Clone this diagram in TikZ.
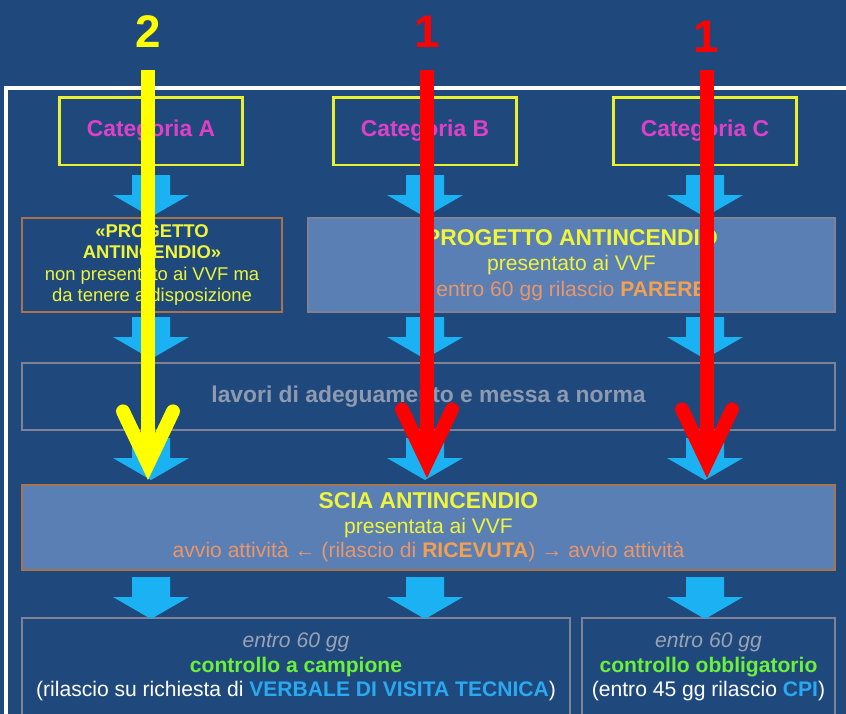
\documentclass[tikz,border=0pt]{standalone}
\usepackage{fontspec}
\setmainfont{Liberation Sans}
\definecolor{bgblue}{HTML}{1F497D}
\definecolor{panelblue}{HTML}{5A7FB5}
\definecolor{boxbrown}{HTML}{A8744E}
\definecolor{boxgray}{HTML}{7E8294}
\definecolor{catyellow}{HTML}{E8F030}
\definecolor{catmagenta}{HTML}{E040C8}
\definecolor{txtyellow}{HTML}{EEF53A}
\definecolor{txtorange}{HTML}{E8966A}
\definecolor{boldorange}{HTML}{F4A050}
\definecolor{txtgray}{HTML}{8E9AB0}
\definecolor{italgray}{HTML}{9AA3B3}
\definecolor{ctrlgreen}{HTML}{6CF03A}
\definecolor{txtcyan}{HTML}{2AA8F0}
\definecolor{flowblue}{HTML}{1AB2F2}
\definecolor{annyellow}{HTML}{FFFF00}
\definecolor{annred}{HTML}{FF0000}
\usetikzlibrary{arrows.meta, positioning, calc}
\tikzset{
  catbox/.style={
    draw=catyellow, line width=1.7pt, minimum width=3.66cm,
    minimum height=1.36cm, text=catmagenta,
    font=\fontsize{13}{15}\selectfont\bfseries
  },
  panel/.style={
    draw=#1, line width=0.7pt, inner sep=0pt, align=center
  },
  panel/.default=boxbrown,
  lightpanel/.style={panel=#1, fill=panelblue},
  lightpanel/.default=boxbrown,
  annot/.style={
    -{Straight Barb[length=1.05cm, width=1.0cm, line cap=round, line join=miter]},
    line width=7.9pt, color=#1
  },
  numlbl/.style={font=\fontsize{26}{26}\selectfont\bfseries, text=#1},
  pics/flowdown/.style={code={
    \fill[flowblue] (-19,0) -- (19,0) -- (19,20) -- (38,20) -- (0,42)
      -- (-38,20) -- (-19,20) -- cycle;
  }},
}

\begin{document}
\begin{tikzpicture}[x=0.02cm, y=-0.02cm]
    \fill[bgblue] (0,0) rectangle (846,714);
    \useasboundingbox (0,0) rectangle (846,714);
    \draw[white, line width=2.3pt] (6,718) -- (6,88) -- (850,88);

    \node[catbox] (catA) at (151,131) {Categoria A};
    \node[catbox] (catB) at (425,131) {Categoria B};
    \node[catbox] (catC) at (705,131) {Categoria C};

    \node[panel, minimum width=5.2cm, minimum height=1.88cm, text=txtyellow,
      font=\fontsize{10.5}{12.3}\selectfont] (progA) at (152,265)
      {\textbf{«PROGETTO}\\\textbf{ANTINCENDIO»}\\non presentato ai VVF ma\\da tenere a disposizione};

    \node[lightpanel=boxgray, minimum width=10.54cm, minimum height=1.88cm, text=txtyellow,
      font=\fontsize{12}{14.5}\selectfont] (progBC) at (571.5,265)
      {{\fontsize{13}{14.5}\selectfont\bfseries PROGETTO ANTINCENDIO}\\presentato ai VVF\\
       \textcolor{txtorange}{entro 60 gg rilascio \textcolor{boldorange}{\textbf{PARERE}}}};

    \node[panel=boxgray, minimum width=16.26cm, minimum height=1.34cm, text=txtgray,
      font=\fontsize{13}{15}\selectfont\bfseries] (lavori) at (428.5,396.5)
      {lavori di adeguamento e messa a norma};

    \node[lightpanel, minimum width=16.26cm, minimum height=1.7cm, text=txtyellow,
      font=\fontsize{12}{14}\selectfont] (scia) at (428.5,527.5)
      {{\fontsize{13}{14}\selectfont\bfseries SCIA ANTINCENDIO}\\presentata ai VVF\\
       \textcolor{txtorange}{avvio attività ← (rilascio di \textcolor{boldorange}{\textbf{RICEVUTA}}) → avvio attività}};

    \node[panel=boxgray, minimum width=10.96cm, minimum height=1.96cm, text=white,
      font=\fontsize{12}{14}\selectfont] (ctrlA) at (296,667)
      {\textcolor{italgray}{\itshape entro 60 gg}\\
       \textcolor{ctrlgreen}{\bfseries controllo a campione}\\
       (rilascio su richiesta di \textcolor{txtcyan}{\bfseries VERBALE DI VISITA TECNICA})};

    \node[panel=boxgray, minimum width=5.06cm, minimum height=1.96cm, text=white,
      font=\fontsize{12}{14}\selectfont] (ctrlC) at (708.5,667)
      {\textcolor{italgray}{\itshape entro 60 gg}\\
       \textcolor{ctrlgreen}{\bfseries controllo obbligatorio}\\
       (entro 45 gg rilascio \textcolor{txtcyan}{\bfseries CPI})};

    \pic at (catA |- 0,175) {flowdown};
    \pic at (catB |- 0,175) {flowdown};
    \pic at (catC |- 0,175) {flowdown};
    \pic at (catA |- 0,317) {flowdown};
    \pic at (catB |- 0,317) {flowdown};
    \pic at (catC |- 0,317) {flowdown};
    \pic at (catA |- 0,438) {flowdown};
    \pic at (catB |- 0,438) {flowdown};
    \pic at (catC |- 0,438) {flowdown};
    \pic at (catA |- 0,577) {flowdown};
    \pic at (catB |- 0,577) {flowdown};
    \pic at (catC |- 0,577) {flowdown};

    \node[numlbl=annyellow] (numA) at (148,32) {2};
    \node[numlbl=annred] (numB) at (427,32) {1};
    \node[numlbl=annred] (numC) at (706,37) {1};

    \coordinate (topA) at (148,70);
    \coordinate (topB) at (427,70);
    \coordinate (topC) at (707,70);
    \coordinate (tipA) at (148,480);
    \coordinate (tipB) at (427,478);
    \coordinate (tipC) at (707,478);

    \draw[annot=annyellow] (topA) -- (tipA);
    \draw[annot=annred] (topB) -- (tipB);
    \draw[annot=annred] (topC) -- (tipC);
  \end{tikzpicture}
\end{document}
